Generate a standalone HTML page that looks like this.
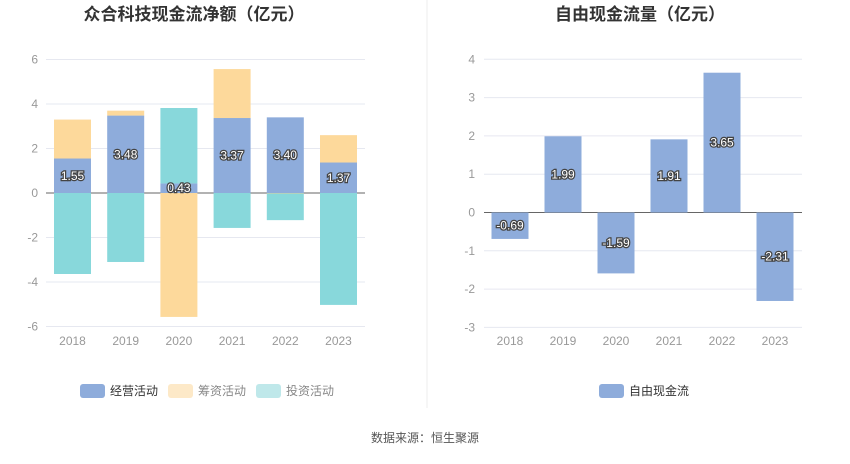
<!DOCTYPE html>
<html><head><meta charset="utf-8"><style>
body{margin:0;background:#fff;width:850px;height:459px;overflow:hidden;font-family:"Liberation Sans","Noto Sans CJK SC",sans-serif}
svg text{font-family:"Liberation Sans","Noto Sans CJK SC",sans-serif}
.lbl{fill:#fff;stroke:#444;stroke-width:2.5px;paint-order:stroke;font-size:12px;text-anchor:middle}
.tk{fill:#999;font-size:12px}
</style></head><body>
<svg id="c" width="850" height="459">
<text x="194" y="20" font-size="17" font-weight="bold" fill="#333" text-anchor="middle">众合科技现金流净额（亿元）</text>
<text x="640" y="20" font-size="17" font-weight="bold" fill="#333" text-anchor="middle">自由现金流量（亿元）</text>
<line x1="427" y1="0" x2="427" y2="408" stroke="#eee"/>
<g id="L"></g><g id="R"></g>
<g>
<rect x="80" y="384" width="25" height="14" rx="3" fill="#8eacdb"/>
<text x="110" y="395" font-size="12" fill="#333">经营活动</text>
<rect x="168" y="384" width="25" height="14" rx="3" fill="#fde9c8"/>
<text x="198" y="395" font-size="12" fill="#888">筹资活动</text>
<rect x="256" y="384" width="25" height="14" rx="3" fill="#bfe8ea"/>
<text x="286" y="395" font-size="12" fill="#888">投资活动</text>
</g>
<g>
<rect x="599" y="384" width="25" height="14" rx="3" fill="#8eacdb"/>
<text x="629" y="395" font-size="12" fill="#333">自由现金流</text>
</g>
<text x="425" y="442" font-size="12" fill="#555" text-anchor="middle">数据来源：恒生聚源</text>
</svg>
<script>
const years=["2018","2019","2020","2021","2022","2023"];
const operating=[1.55,3.48,0.43,3.37,3.40,1.37];
const financing=[1.75,0.22,-5.57,2.2,-0.02,1.23];
const investing=[-3.64,-3.1,3.39,-1.57,-1.2,-5.03];
const opLabels=["1.55","3.48","0.43","3.37","3.40","1.37"];
const leftTicks=[6,4,2,0,-2,-4,-6];
const fcf=[-0.69,1.99,-1.59,1.91,3.65,-2.31];
const fcfLabels=["-0.69","1.99","-1.59","1.91","3.65","-2.31"];
const rightTicks=[4,3,2,1,0,-1,-2,-3];
const NS="http://www.w3.org/2000/svg";
function mk(p,t,a,txt){const e=document.createElementNS(NS,t);for(const k in a)e.setAttribute(k,a[k]);if(txt!==undefined)e.textContent=txt;p.appendChild(e);return e;}
// left chart
const L=document.getElementById('L');
const ly=v=>193-v*22.25, lx=i=>46+i*53.2;
leftTicks.forEach(t=>{
 const g=mk(L,'line',{x1:46,x2:365,y1:ly(t),y2:ly(t),stroke:t===0?'#666':'#e6e8f0'});
 
 
 const tx=mk(L,'text',{x:38,y:ly(t)+4,'text-anchor':'end',class:'tk'},String(t));
 
 
});
years.forEach((y,i)=>{
 let pos=0,neg=0;
 const segs=[[operating[i],'#8eacdb','bar-operating'],[financing[i],'#fdd99b','bar-financing'],[investing[i],'#88d8db','bar-investing']];
 segs.forEach(([v,c,n])=>{
  let a,b;
  if(v>=0){a=pos;b=pos+v;pos=b;}else{a=neg;b=neg+v;neg=b;}
  const r=mk(L,'rect',{x:lx(i)+8,width:37,y:Math.min(ly(a),ly(b)),height:Math.abs(ly(a)-ly(b)),fill:c});
  
  
 });
 const t=mk(L,'text',{x:lx(i)+26.5,y:ly(operating[i]/2)+4,class:'lbl'},opLabels[i]);
 
 
 const xl=mk(L,'text',{x:lx(i)+26.5,y:345,'text-anchor':'middle',class:'tk'},y);
 
 
});
// right chart
const R=document.getElementById('R');
const ry=v=>212.5-v*38.3, rx=i=>484+i*53;
rightTicks.forEach(t=>{
 const g=mk(R,'line',{x1:484,x2:802,y1:ry(t),y2:ry(t),stroke:t===0?'#666':'#e6e8f0'});
 
 
 const tx=mk(R,'text',{x:475,y:ry(t)+4,'text-anchor':'end',class:'tk'},String(t));
 
 
});
years.forEach((y,i)=>{
 const v=fcf[i];
 const r=mk(R,'rect',{x:rx(i)+7.5,width:37,y:Math.min(ry(0),ry(v)),height:Math.abs(ry(v)-ry(0)),fill:'#8eacdb'});
 
 
 const t=mk(R,'text',{x:rx(i)+26,y:ry(v/2)+4,class:'lbl'},fcfLabels[i]);
 
 
 const xl=mk(R,'text',{x:rx(i)+26,y:345,'text-anchor':'middle',class:'tk'},y);
 
 
});
</script>
</body></html>
